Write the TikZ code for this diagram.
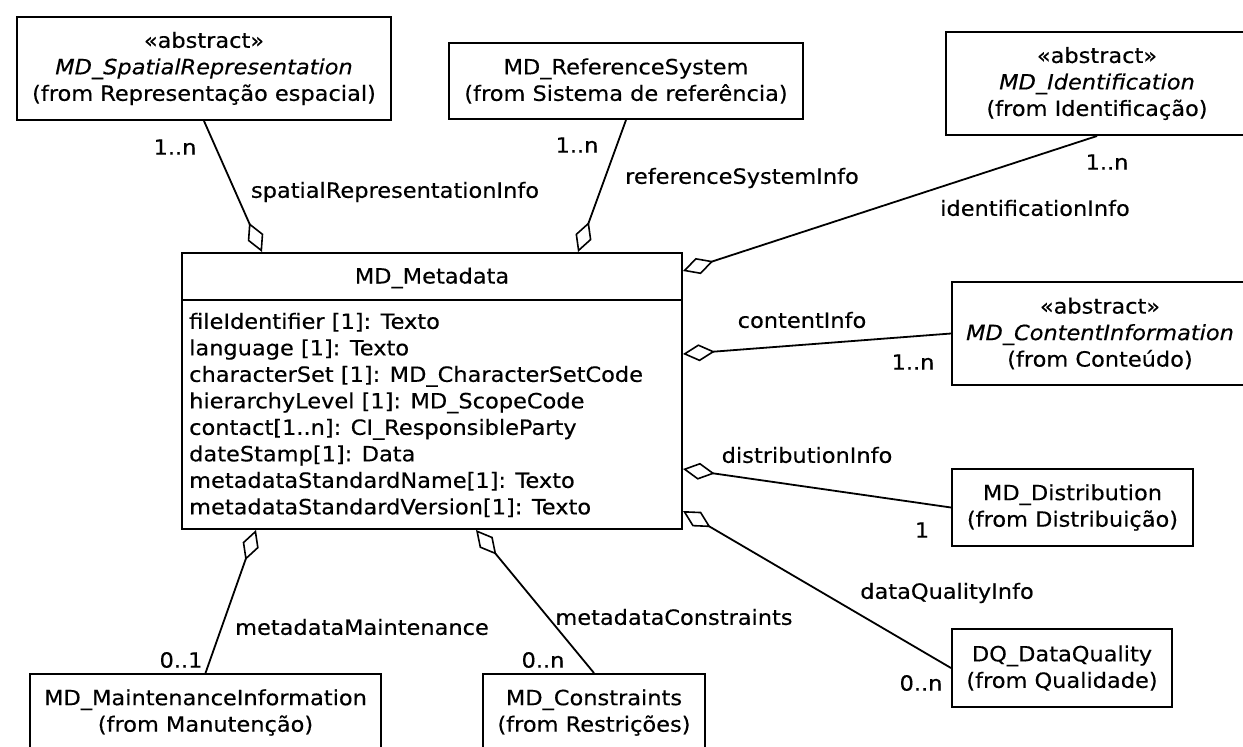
\documentclass[tikz,border=0pt]{standalone}
\usepackage{fontspec}
\setmainfont[FakeStretch=1.07,FakeBold=0.35]{DejaVu Sans}
\usetikzlibrary{arrows.meta}
\begin{document}
\begin{tikzpicture}[x=1pt,y=-1pt,
  every node/.style={font=\fontsize{21}{26.5}\selectfont, inner sep=0pt},
  cls/.style={draw, line width=2pt, align=center, fill=white},
  agg/.style={line width=1.8pt, -{Diamond[open,length=32pt,width=17pt,line width=1.6pt]}},
]
\useasboundingbox[fill=white] (0,0) rectangle (1243,747);

% classes
\node[cls, minimum width=374pt, minimum height=103pt] (spatial) at (204,68.5)
  {«abstract»\\\textit{MD\_SpatialRepresentation}\\(from Representação espacial)};
\node[cls, minimum width=354pt, minimum height=76pt] (ref) at (626,81)
  {MD\_ReferenceSystem\\(from Sistema de referência)};
\node[cls, minimum width=302pt, minimum height=103pt] (ident) at (1097,83.5)
  {«abstract»\\\textit{MD\_Identification}\\(from Identificação)};
\node[cls, minimum width=296pt, minimum height=103pt] (content) at (1100,333.5)
  {«abstract»\\\textit{MD\_ContentInformation}\\(from Conteúdo)};
\node[cls, minimum width=241pt, minimum height=77pt] (dist) at (1072.5,507.5)
  {MD\_Distribution\\(from Distribuição)};
\node[cls, minimum width=220pt, minimum height=78pt] (dq) at (1062,668)
  {DQ\_DataQuality\\(from Qualidade)};
\node[cls, minimum width=351pt, minimum height=77pt] (maint) at (205.5,712.5)
  {MD\_MaintenanceInformation\\(from Manutenção)};
\node[cls, minimum width=222pt, minimum height=77pt] (cons) at (594,712.5)
  {MD\_Constraints\\(from Restrições)};

% MD_Metadata
\node[draw, line width=2pt, minimum width=500pt, minimum height=276pt] (meta) at (432,391) {};
\node (metatitle) at (432,278) {MD\_Metadata};
\draw[line width=2pt] ([yshift=-48pt]meta.north west) -- ([yshift=-48pt]meta.north east);
\node[anchor=west, align=left] (attrs) at (189,415)
  {fileIdentifier [1]: Texto\\
   language [1]: Texto\\
   characterSet [1]: MD\_CharacterSetCode\\
   hierarchyLevel [1]: MD\_ScopeCode\\
   contact[1..n]: CI\_ResponsibleParty\\
   dateStamp[1]: Data\\
   metadataStandardName[1]: Texto\\
   metadataStandardVersion[1]: Texto};

% associations
\draw[agg] (spatial.south) -- ([xshift=81pt]meta.north west);
\draw[agg] (ref.south) -- ([xshift=397pt]meta.north west);
\draw[agg] (ident.south) -- ([yshift=-19pt]meta.north east);
\draw[agg] (content.west) -- ([yshift=-102pt]meta.north east);
\draw[agg] (dist.west) -- ([yshift=-217pt]meta.north east);
\draw[agg] (dq.west) -- ([yshift=-259pt]meta.north east);
\draw[agg] (maint.north) -- ([xshift=75pt]meta.south west);
\draw[agg] (cons.north) -- ([xshift=295pt]meta.south west);

% labels
\node (m1) at (175,147) {1..n};
\node (r1) at (395,192) {spatialRepresentationInfo};
\node (m2) at (577,145) {1..n};
\node (r2) at (742,178) {referenceSystemInfo};
\node (m3) at (1107,162) {1..n};
\node (r3) at (1035,208) {identificationInfo};
\node (r4) at (802,320) {contentInfo};
\node (m4) at (913,362) {1..n};
\node (r5) at (807,455) {distributionInfo};
\node (m5) at (922,530) {1};
\node (r6) at (947,593) {dataQualityInfo};
\node (m6) at (921,683) {0..n};
\node (r7) at (362,627) {metadataMaintenance};
\node (m7) at (181,660) {0..1};
\node (r8) at (674,617) {metadataConstraints};
\node (m8) at (543,660) {0..n};
\end{tikzpicture}
\end{document}
